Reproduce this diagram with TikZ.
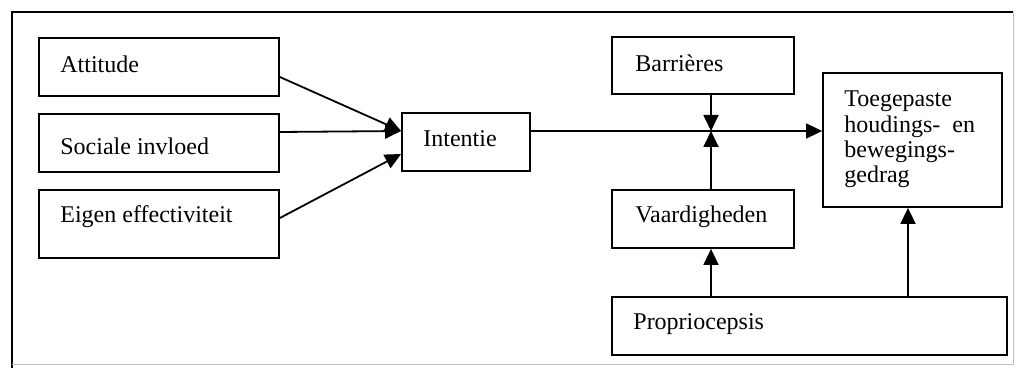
\documentclass[tikz,border=0pt]{standalone}
\usepackage{fontspec}
\setmainfont{Liberation Serif}
\usetikzlibrary{arrows.meta,calc}
\begin{document}
\begin{tikzpicture}[x=0.5pt,y=-0.5pt,
  box/.style={draw,line width=0.9pt,inner sep=0pt},
  txt/.style={anchor=base west,inner sep=0pt,font=\fontsize{12}{12.5}\selectfont},
  arr/.style={line width=0.9pt,-{Triangle[length=8pt,width=7.5pt]}},
  ln/.style={line width=0.9pt}]
\useasboundingbox (0,0) rectangle (1017,368);
% outer frame
\draw[ln] (12,368) -- (12,12) -- (1013,12);
\draw[line width=0.5pt,black!25] (1013,12) -- (1013,365) -- (12,365);
% boxes
\node[box,minimum width=120pt,minimum height=29pt] (att) at (159,67) {};
\node[box,minimum width=120pt,minimum height=29pt] (soc) at (159,143) {};
\node[box,minimum width=120pt,minimum height=34pt] (eig) at (159,224) {};
\node[box,minimum width=64pt,minimum height=29pt] (int) at (466,142) {};
\node[box,minimum width=91pt,minimum height=28.5pt] (bar) at (703,65.5) {};
\node[box,minimum width=91pt,minimum height=29pt] (vaa) at (703,219) {};
\node[box,minimum width=89.5pt,minimum height=67pt] (toe) at (912.5,140) {};
\node[box,minimum width=197.5pt,minimum height=29pt] (pro) at (809.5,326) {};
% texts
\node[txt] (attT) at (60,73) {Attitude};
\node[txt] (socT) at (60,155) {Sociale invloed};
\node[txt] (eigT) at (60,223) {Eigen effectiviteit};
\node[txt] (intT) at (423,147) {Intentie};
\node[txt] (barT) at (635,72) {Barrières};
\node[txt] (vaaT) at (635,223) {Vaardigheden};
\node[txt] (proT) at (633,330) {Propriocepsis};
\node[txt] (toeT1) at (844,107) {Toegepaste};
\node[txt] (toeT2) at (844,133) {houdings-\hspace{0.5em}en};
\node[txt] (toeT3) at (844,158) {bewegings-};
\node[txt] (toeT4) at (844,183) {gedrag};
% junction
\coordinate (j) at (711,131);
\coordinate (pt) at ([xshift=-2.25pt]toe.south);
% connectors
\draw[arr] ([yshift=-5pt]att.east) -- ([yshift=5.5pt]int.west);
\draw[arr] ([yshift=5.5pt]soc.east) -- ([yshift=5.5pt]int.west);
\draw[arr] ([yshift=3pt]eig.east) -- ([yshift=-6pt]int.west);
\draw[arr] ([yshift=5.5pt]int.east) -- ([yshift=5.5pt]int.east -| toe.west);
\draw[arr] (bar.south -| j) -- (j);
\draw[arr] (vaa.north -| j) -- (j);
\draw[arr] (pro.north -| j) -- (vaa.south -| j);
\draw[arr] (pro.north -| pt) -- (pt);
\end{tikzpicture}
\end{document}
